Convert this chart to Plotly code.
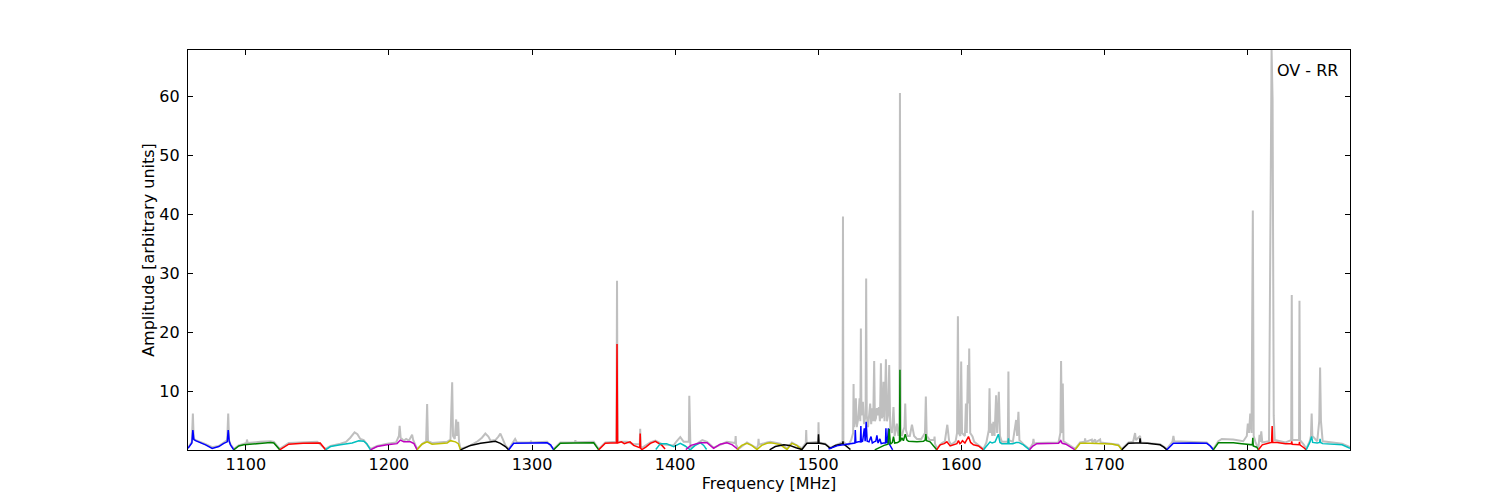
import plotly.graph_objects as go

# ---------------- data ----------------
# full-resolution spectrum (grey)
grey_freq = [1059.6, 1062.3, 1063.0, 1063.6, 1065.0, 1067.2, 1072.0, 1076.5, 1081.0, 1084.6, 1087.0, 1087.7, 1088.3, 1089.3, 1091.6,
             1095.0, 1098.6, 1100.5, 1100.8, 1101.3, 1110.0, 1117.3, 1119.6, 1123.7,
             1130.0, 1140.0, 1149.9, 1155.7,
             1159.2, 1166.1, 1170.0, 1173.0, 1176.0, 1178.0, 1180.0, 1182.4, 1187.1,
             1191.8, 1198.8, 1205.0, 1207.0, 1207.5, 1208.2, 1210.4, 1212.0, 1214.0, 1216.2, 1217.0, 1219.7,
             1224.0, 1226.0, 1226.7, 1227.3, 1230.2, 1240.7, 1243.0, 1244.2, 1244.8, 1246.0, 1247.0, 1247.6, 1248.4, 1249.0, 1250.0,
             1257.0, 1262.0, 1265.0, 1267.4, 1269.5, 1271.0, 1274.4, 1276.5, 1277.9, 1279.5, 1281.4, 1283.7,
             1287.2, 1288.2, 1289.5, 1299.0, 1299.3, 1299.6, 1310.5, 1315.1,
             1319.8, 1330.0, 1330.3, 1330.6, 1343.1, 1346.6,
             1351.2, 1359.0, 1359.4, 1359.8, 1366.4, 1371.0, 1375.3, 1375.6, 1375.9, 1376.8, 1382.7, 1386.2,
             1390.8, 1399.0, 1401.0, 1403.6, 1406.0, 1409.6, 1409.9, 1410.3, 1410.7, 1414.0, 1417.6, 1419.0, 1422.3, 1426.9,
             1436.2, 1442.0, 1442.3, 1442.6, 1444.3, 1450.2, 1457.2, 1458.0, 1458.3, 1458.6, 1464.2, 1466.5, 1473.5, 1478.2,
             1481.6, 1488.6, 1491.3, 1491.6, 1491.9, 1496.0, 1500.0, 1500.2, 1500.5, 1504.9, 1508.4, 1515.4, 1517.0, 1517.3,
             1517.6, 1519.0, 1521.2,
             1523.0, 1524.4, 1524.7, 1525.0, 1525.6, 1526.3, 1526.9, 1528.0, 1528.9, 1529.4, 1529.8, 1530.2, 1531.2, 1532.0,
             1533.1, 1533.5, 1533.9, 1534.8, 1536.3, 1537.0, 1537.7, 1538.4, 1539.1, 1539.6, 1540.3, 1541.0, 1541.7, 1542.4,
             1543.1, 1543.8, 1544.4, 1545.0, 1545.6, 1546.3, 1547.3, 1548.0, 1548.8, 1549.6, 1550.3, 1551.5, 1552.6, 1553.4,
             1555.0, 1556.0, 1556.8, 1557.1, 1557.3, 1557.6, 1558.5, 1559.5, 1560.3, 1560.8, 1561.3, 1562.5, 1564.0, 1565.5,
             1567.0, 1569.0, 1572.0, 1574.6, 1575.2, 1575.8, 1578.0, 1581.0, 1581.3, 1581.6, 1582.8,
             1586.0, 1588.5, 1590.2, 1591.5, 1593.0, 1596.0, 1597.0, 1597.6, 1598.2, 1599.3, 1599.9, 1600.5, 1602.5, 1603.2,
             1603.8, 1604.6, 1605.1, 1605.5, 1606.2, 1607.8, 1609.0, 1612.0, 1615.5,
             1617.5, 1618.5, 1619.2, 1619.7, 1620.3, 1620.8, 1621.6, 1622.4, 1623.2, 1624.3, 1625.0, 1626.2, 1627.0, 1628.3,
             1632.5, 1632.9, 1633.3, 1636.0, 1638.3, 1639.0, 1639.9, 1640.6, 1643.4, 1647.6,
             1650.0, 1650.4, 1650.8, 1652.8, 1660.0, 1667.9, 1669.2, 1669.7, 1670.3, 1670.9, 1671.4, 1676.0, 1679.5,
             1683.0, 1686.2, 1686.5, 1686.8, 1691.2, 1691.5, 1693.5, 1693.8, 1697.0, 1697.3, 1709.8, 1712.1,
             1716.8, 1720.0, 1721.4, 1722.0, 1724.9, 1725.5, 1738.9, 1743.6,
             1747.5, 1748.2, 1748.8, 1760.0, 1771.5, 1776.1,
             1779.6, 1782.0, 1790.0, 1797.0, 1799.5, 1800.2, 1801.0, 1801.9, 1802.8, 1803.7, 1804.3, 1805.5, 1807.6,
             1808.4, 1809.0, 1809.6, 1810.3, 1815.0, 1816.8, 1817.5, 1818.3, 1819.0, 1826.5, 1830.5, 1830.9, 1831.3, 1836.0,
             1836.3, 1836.7, 1839.4, 1841.0,
             1843.5, 1844.3, 1844.8, 1845.3, 1848.7, 1850.1, 1850.7, 1851.3, 1852.5, 1866.1, 1871.6]
grey_amp = [0.5, 1.5, 6.3, 2.0, 1.8, 1.6, 1.1, 0.6, 0.8, 1.4, 1.8, 6.3, 1.8, 1.1, 0.3,
            0.9, 1.2, 1.3, 1.9, 1.3, 1.5, 1.6, 1.5, 0.3,
            1.3, 1.4, 1.5, 0.3,
            0.8, 1.2, 1.5, 2.2, 3.1, 2.8, 2.0, 1.8, 0.3,
            0.8, 1.2, 1.4, 2.5, 4.2, 2.2, 1.7, 2.0, 1.7, 2.7, 1.8, 0.3,
            1.3, 1.6, 7.9, 1.6, 1.3, 1.5, 1.9, 11.6, 2.5, 2.0, 5.3, 2.5, 4.9, 1.5, 0.3,
            0.9, 1.6, 2.2, 2.9, 2.4, 1.7, 1.8, 2.4, 2.9, 2.0, 0.9, 0.3,
            1.8, 2.0, 1.4, 1.4, 1.7, 1.4, 1.5, 0.3,
            1.4, 1.45, 1.8, 1.45, 1.5, 0.3,
            1.4, 1.5, 28.8, 1.5, 1.5, 1.1, 1.1, 3.7, 0.8, 0.5, 1.4, 1.7,
            1.1, 0.9, 1.6, 2.3, 1.5, 1.5, 9.3, 5.6, 0.5, 1.0, 1.6, 1.8, 1.5, 0.5,
            1.5, 1.3, 2.5, 1.0, 0.3, 1.4, 0.4, 1.0, 2.0, 1.0, 1.4, 1.5, 1.2, 0.4,
            1.4, 0.4, 1.3, 3.5, 1.3, 1.4, 1.5, 4.8, 1.4, 1.2, 0.5, 1.3, 1.5, 39.7,
            1.5, 1.2, 1.0,
            1.8, 3.0, 11.3, 4.0, 5.0, 8.9, 4.0, 5.5, 8.9, 5.0, 20.7, 6.0, 8.3, 4.5,
            6.0, 29.2, 6.0, 4.0, 8.0, 4.5, 7.2, 5.0, 15.2, 5.0, 5.5, 7.2, 6.0, 7.4,
            5.0, 14.8, 5.5, 6.0, 11.7, 5.0, 15.5, 5.0, 6.0, 14.5, 4.0, 3.0, 7.4, 2.5,
            4.6, 2.5, 4.0, 60.6, 42.0, 3.0, 2.5, 3.5, 4.0, 8.0, 3.5, 2.5, 2.5, 4.4,
            2.5, 2.0, 2.0, 3.0, 9.2, 2.5, 1.8, 1.8, 2.4, 1.2, 0.4,
            1.2, 1.6, 4.4, 1.6, 1.0, 1.6, 3.0, 22.8, 3.0, 2.5, 15.1, 3.0, 2.5, 8.0,
            3.0, 14.5, 8.0, 17.3, 3.0, 2.4, 1.5, 1.0, 0.3,
            1.4, 2.9, 3.5, 10.6, 3.0, 4.6, 2.5, 4.9, 2.5, 9.4, 3.0, 10.0, 2.5, 1.5,
            1.5, 13.4, 1.8, 1.5, 5.2, 2.5, 6.6, 1.8, 1.1, 0.3,
            1.2, 2.0, 1.2, 1.3, 1.35, 1.4, 3.0, 15.2, 3.0, 11.4, 1.6, 0.8, 0.3,
            1.4, 1.5, 2.1, 1.5, 1.9, 1.4, 1.9, 1.4, 1.9, 1.4, 1.0, 0.3,
            1.4, 1.5, 3.0, 1.8, 2.5, 1.4, 1.1, 0.3,
            1.5, 2.5, 1.6, 1.5, 1.4, 0.3,
            1.6, 2.0, 1.9, 1.6, 2.5, 4.6, 3.0, 6.3, 3.0, 40.7, 2.5, 1.5, 0.3,
            2.7, 1.5, 3.3, 1.4, 1.6, 67.9, 59.5, 5.9, 1.8, 1.4, 1.8, 26.4, 1.8, 1.8,
            25.4, 1.8, 1.0, 0.3,
            1.6, 2.5, 6.3, 2.5, 1.6, 5.0, 14.1, 5.0, 1.6, 1.2, 0.6]

# sub-band spectra (coloured)
band01_freq = [1059.6, 1062.3, 1063.0, 1063.7, 1064.9, 1067.2, 1071.9, 1076.5, 1081.1, 1084.6, 1087.0, 1087.7, 1088.4, 1089.3, 1091.6]
band01_amp = [0.4, 1.3, 3.5, 1.9, 1.7, 1.5, 1.0, 0.4, 0.7, 1.25, 1.5, 3.5, 1.6, 1.0, 0.15]
band02_freq = [1091.6, 1095.1, 1098.6, 1108.0, 1117.3, 1119.6, 1123.7]
band02_amp = [0.15, 0.8, 1.0, 1.2, 1.4, 1.3, 0.15]
band03_freq = [1123.7, 1127.0, 1130.0, 1140.0, 1149.9, 1152.0, 1155.7]
band03_amp = [0.15, 0.7, 1.1, 1.25, 1.35, 1.3, 0.15]
band04_freq = [1155.7, 1159.2, 1166.1, 1174.3, 1178.9, 1182.4, 1184.5, 1187.1]
band04_amp = [0.15, 0.7, 1.0, 1.3, 1.7, 1.6, 1.2, 0.15]
band05_freq = [1187.1, 1191.8, 1198.8, 1205.7, 1208.0, 1210.4, 1215.0, 1217.5, 1219.7]
band05_amp = [0.15, 0.7, 1.0, 1.2, 1.8, 1.5, 1.5, 1.2, 0.15]
band06_freq = [1219.7, 1223.0, 1226.7, 1230.2, 1240.7, 1243.0, 1246.5, 1248.5, 1250.0]
band06_amp = [0.15, 1.1, 1.5, 1.1, 1.3, 1.7, 1.5, 1.2, 0.15]
band07_freq = [1250.0, 1253.0, 1257.0, 1264.0, 1271.0, 1274.4, 1277.9, 1281.4, 1283.7]
band07_amp = [0.15, 0.5, 0.9, 1.25, 1.45, 1.6, 1.25, 0.7, 0.15]
band08_freq = [1283.7, 1287.2, 1300.0, 1310.5, 1313.0, 1315.1]
band08_amp = [0.15, 1.25, 1.3, 1.35, 1.0, 0.15]
band09_freq = [1315.1, 1319.8, 1330.0, 1343.1, 1346.6]
band09_amp = [0.15, 1.25, 1.3, 1.35, 0.15]
band10_freq = [1346.6, 1351.2, 1355.0, 1359.0, 1359.4, 1359.8, 1362.5, 1364.5, 1366.4, 1368.5, 1371.0, 1375.3, 1375.6,
               1375.9, 1376.8, 1379.5, 1382.7, 1386.2, 1390.8, 1393.0]
band10_amp = [0.15, 1.25, 1.3, 1.3, 18.1, 1.3, 1.5, 1.2, 1.35, 1.5, 0.9, 0.5, 2.9, 0.4, 0.2, 0.6, 1.25, 1.6, 0.9, 0.3]
band11_freq = [1386.5, 1389.7, 1394.0, 1399.0, 1403.6, 1407.0, 1410.6, 1414.0, 1417.6, 1420.0, 1422.0]
band11_amp = [0.2, 1.2, 1.2, 0.7, 1.25, 0.8, 0.15, 0.9, 1.35, 0.9, 0.2]
band12_freq = [1407.5, 1411.0, 1417.6, 1422.3, 1426.9, 1431.5, 1436.2, 1440.0, 1444.3]
band12_amp = [0.2, 0.9, 1.35, 1.35, 0.4, 1.1, 1.35, 1.0, 0.15]
band13_freq = [1443.2, 1446.5, 1450.2, 1453.5, 1457.2, 1460.5, 1464.2, 1466.5, 1470.0, 1473.5, 1478.2, 1481.6, 1485.0, 1488.6]
band13_amp = [0.15, 0.9, 1.25, 0.9, 0.2, 0.9, 1.25, 1.35, 1.2, 1.0, 0.2, 1.25, 0.9, 0.15]
band14_freq = [1466.0, 1470.0, 1476.0, 1480.0, 1484.5, 1488.6, 1492.1, 1496.0, 1499.9, 1500.2, 1500.5, 1504.9, 1508.4,
               1512.0, 1515.4, 1517.1, 1517.3, 1517.5, 1519.0, 1521.2, 1522.5]
band14_amp = [0.15, 0.7, 1.0, 0.9, 0.5, 0.2, 1.25, 1.3, 1.3, 2.8, 1.3, 1.1, 0.4, 0.9, 1.1, 1.2, 1.6, 1.1, 0.9, 0.4, 0.2]
band15_freq = [1507.2, 1510.0, 1514.0, 1517.7, 1521.0, 1524.0, 1525.6, 1525.9, 1526.3, 1528.0, 1529.5, 1529.8, 1530.1,
               1531.0, 1532.2, 1532.8, 1533.5, 1534.2, 1535.5, 1536.9, 1537.8, 1539.0, 1540.2, 1541.0, 1541.8, 1543.1,
               1544.0, 1545.5, 1547.0, 1547.3, 1547.6, 1548.3, 1549.0, 1549.5, 1550.3, 1552.0]
band15_amp = [0.3, 0.6, 0.9, 1.0, 1.1, 1.3, 1.3, 3.5, 1.4, 1.5, 1.5, 4.2, 1.5, 1.6, 3.8, 1.6, 4.9, 1.6, 1.5, 2.4, 1.3,
              1.5, 1.6, 2.6, 1.3, 2.0, 1.2, 1.3, 1.3, 3.8, 1.4, 1.4, 3.8, 1.2, 0.8, 0.15]
band16_freq = [1539.5, 1543.0, 1546.0, 1548.8, 1549.6, 1550.4, 1551.8, 1552.6, 1553.4, 1555.5, 1556.8, 1557.1, 1557.4,
               1558.5, 1559.5, 1560.8, 1562.0, 1563.1, 1569.0, 1573.5, 1574.7, 1575.2, 1575.7, 1578.2, 1580.5, 1582.8]
band16_amp = [0.15, 0.6, 0.9, 1.1, 3.7, 1.1, 1.4, 2.4, 1.3, 1.4, 1.6, 13.7, 1.6, 2.2, 1.7, 2.8, 1.8, 1.6, 1.5, 1.6,
              1.8, 2.8, 1.7, 1.5, 0.8, 0.15]
band17_freq = [1582.8, 1585.2, 1588.0, 1589.9, 1592.2, 1595.0, 1596.9, 1598.0, 1599.0, 1599.7, 1600.8, 1602.5, 1605.0,
               1606.5, 1608.5, 1612.0, 1615.5]
band17_amp = [0.15, 1.0, 1.2, 1.5, 0.8, 1.1, 1.2, 1.7, 1.2, 1.3, 1.7, 1.3, 2.4, 1.4, 1.0, 0.8, 0.15]
band18_freq = [1615.5, 1618.9, 1620.1, 1621.5, 1623.6, 1625.9, 1627.0, 1628.3, 1632.5, 1632.9, 1633.4, 1636.0, 1638.3,
               1640.0, 1643.4, 1647.6]
band18_amp = [0.15, 1.2, 1.5, 1.3, 1.5, 2.8, 1.4, 1.2, 1.2, 2.1, 1.2, 1.2, 1.4, 1.4, 1.0, 0.15]
band19_freq = [1647.6, 1650.0, 1652.8, 1660.0, 1667.9, 1669.5, 1670.5, 1673.0, 1676.0, 1679.5]
band19_amp = [0.15, 0.8, 1.2, 1.25, 1.25, 1.7, 1.25, 1.1, 0.7, 0.15]
band20_freq = [1679.5, 1683.0, 1690.0, 1699.3, 1705.0, 1709.8, 1712.1]
band20_amp = [0.15, 1.25, 1.25, 1.25, 1.15, 0.9, 0.15]
band21_freq = [1712.1, 1716.8, 1722.0, 1724.6, 1724.9, 1725.3, 1730.0, 1738.9, 1741.5, 1743.6]
band21_amp = [0.15, 1.25, 1.3, 1.3, 2.1, 1.3, 1.25, 1.0, 0.6, 0.15]
band22_freq = [1743.6, 1748.2, 1760.0, 1771.5, 1774.0, 1776.1]
band22_amp = [0.15, 1.25, 1.3, 1.25, 0.8, 0.15]
band23_freq = [1776.1, 1779.6, 1785.0, 1790.1, 1796.0, 1801.7, 1803.4, 1803.7, 1804.0, 1806.4, 1807.6]
band23_amp = [0.15, 1.35, 1.35, 1.35, 1.2, 1.0, 1.0, 2.2, 0.8, 0.6, 0.15]
band24_freq = [1807.6, 1810.3, 1815.0, 1816.8, 1817.2, 1817.6, 1820.7, 1826.5, 1830.6, 1830.9, 1831.2, 1836.0, 1836.3,
               1836.6, 1839.4, 1841.0]
band24_amp = [0.15, 1.0, 1.3, 1.4, 4.2, 1.4, 1.4, 1.2, 1.2, 1.6, 1.1, 1.0, 1.5, 1.0, 0.5, 0.15]
band25_freq = [1841.0, 1843.5, 1844.8, 1845.5, 1848.7, 1850.4, 1850.7, 1851.0, 1852.5, 1860.0, 1866.1, 1871.6]
band25_amp = [0.15, 1.4, 2.4, 1.4, 1.3, 1.4, 2.0, 1.4, 1.2, 1.1, 1.0, 0.4]

band_colors = ["#0000ff", "#008000", "#ff0000", "#00bfbf", "#bf00bf", "#bfbf00", "#000000"]

x_ticks = [1100, 1200, 1300, 1400, 1500, 1600, 1700, 1800]
y_ticks = [10, 20, 30, 40, 50, 60]
x_range = [1059.6, 1871.6]
y_range = [0.12, 67.9]

bands = [
    (band01_freq, band01_amp), (band02_freq, band02_amp), (band03_freq, band03_amp), (band04_freq, band04_amp),
    (band05_freq, band05_amp), (band06_freq, band06_amp), (band07_freq, band07_amp), (band08_freq, band08_amp),
    (band09_freq, band09_amp), (band10_freq, band10_amp), (band11_freq, band11_amp), (band12_freq, band12_amp),
    (band13_freq, band13_amp), (band14_freq, band14_amp), (band15_freq, band15_amp), (band16_freq, band16_amp),
    (band17_freq, band17_amp), (band18_freq, band18_amp), (band19_freq, band19_amp), (band20_freq, band20_amp),
    (band21_freq, band21_amp), (band22_freq, band22_amp), (band23_freq, band23_amp), (band24_freq, band24_amp),
    (band25_freq, band25_amp),
]

# ---------------- figure ----------------
fig = go.Figure()
fig.add_trace(go.Scatter(x=grey_freq, y=grey_amp, mode="lines",
                         line=dict(color="#bfbfbf", width=2), showlegend=False, hoverinfo="skip"))
for i, (f, a) in enumerate(bands):
    fig.add_trace(go.Scatter(x=f, y=a, mode="lines",
                             line=dict(color=band_colors[i % len(band_colors)], width=1.5),
                             showlegend=False))

font = dict(family="DejaVu Sans", size=16, color="black")
fig.update_layout(
    width=1500, height=500,
    margin=dict(l=188, r=150, t=50, b=50, pad=0, autoexpand=False),
    paper_bgcolor="white", plot_bgcolor="white",
    font=font,
    showlegend=False,
)
fig.update_xaxes(range=x_range, tickvals=x_ticks, ticks="inside", ticklen=5, tickwidth=1, tickcolor="black",
                 showline=True, linecolor="black", linewidth=1.3, mirror="allticks", automargin=False,
                 showgrid=False, zeroline=False, tickfont=font,
                 title=dict(text="Frequency [MHz]", font=font, standoff=4))
fig.update_yaxes(range=y_range, tickvals=y_ticks, ticks="inside", ticklen=5, tickwidth=1, tickcolor="black",
                 showline=True, linecolor="black", linewidth=1.3, mirror="allticks", automargin=False,
                 showgrid=False, zeroline=False, tickfont=font, ticklabelstandoff=4,
                 title=dict(text="Amplitude [arbitrary units]", font=font, standoff=0))
fig.add_annotation(text="OV - RR", xref="paper", yref="paper", x=1, y=1, xanchor="right", yanchor="top",
                   xshift=-10, yshift=-9, showarrow=False, font=font)

fig.write_html("out.html", config={"displayModeBar": False},
               post_script="document.body.style.margin='0';document.body.style.overflow='hidden';")
